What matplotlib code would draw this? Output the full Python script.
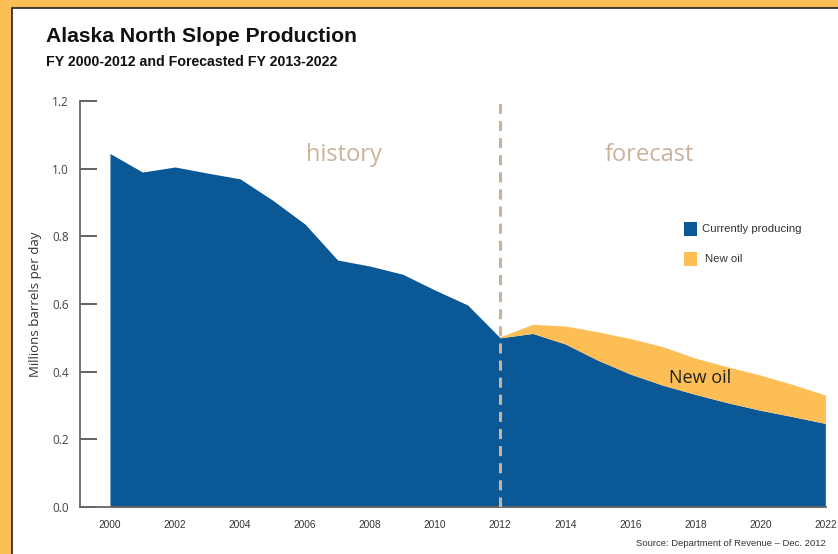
import matplotlib
matplotlib.use("Agg")
import matplotlib.pyplot as plt
from matplotlib.patches import Rectangle

# 数据
years = [2000, 2001, 2002, 2003, 2004, 2005, 2006, 2007, 2008, 2009, 2010, 2011, 2012,
         2013, 2014, 2015, 2016, 2017, 2018, 2019, 2020, 2021, 2022]
current = [1.045, 0.99, 1.005, 0.987, 0.97, 0.907, 0.836, 0.73, 0.712, 0.688, 0.641, 0.597, 0.50,
           0.513, 0.482, 0.434, 0.393, 0.360, 0.333, 0.308, 0.286, 0.267, 0.247]
fc_years = years[12:]
total = [0.503, 0.54, 0.535, 0.518, 0.498, 0.474, 0.440, 0.414, 0.390, 0.362, 0.331]
y_ticks = [0.0, 0.2, 0.4, 0.6, 0.8, 1.0, 1.2]
x_ticks = list(range(2000, 2023, 2))

blue = '#0B5896'
orange = '#FDBE55'
tan = '#C9B29C'
narrow = ['Liberation Sans Narrow', 'Liberation Sans', 'DejaVu Sans']
body = ['Open Sans', 'DejaVu Sans']

fig = plt.figure(figsize=(8.38, 5.54), dpi=100)
fig.patch.set_facecolor(orange)
# 白色面板
fig.patches.append(Rectangle((12 / 838, -0.01), 1.0, 1 - 8 / 554 + 0.01, transform=fig.transFigure,
                             facecolor='white', edgecolor='#222222', lw=1.2, zorder=-5))

ax = fig.add_axes([80 / 838, 1 - 507 / 554, (826 - 80) / 838, (507 - 101) / 554])
ax.set_zorder(2)
ax.set_facecolor('none')
ax.fill_between(years, 0, current, color=blue, lw=0, zorder=2)
ax.fill_between(fc_years, current[12:], total, color=orange, lw=0, zorder=2)
ax.axvline(2012, ymin=0, ymax=1, color=tan, lw=2.2, ls=(0, (3.3, 2.3)), zorder=3)

ax.set_xlim(2000 - 30 / 32.55, 2022.02)
ax.set_ylim(0, 1.2)
ax.set_yticks(y_ticks)
ax.set_yticklabels(['%.1f' % v for v in y_ticks], family=body, fontsize=8.5, color='#444444')
ax.set_xticks(x_ticks)
ax.set_xticklabels([str(v) for v in x_ticks], family=narrow, fontsize=7.3, color='#333333')
ax.tick_params(axis='y', direction='in', length=12, width=1.3, color='#555555', pad=8)
ax.tick_params(axis='x', length=0, pad=9)
for s in ['top', 'right']:
    ax.spines[s].set_visible(False)
for s in ['left', 'bottom']:
    ax.spines[s].set_color('#666666')
    ax.spines[s].set_linewidth(1.3)
ax.set_ylabel('Millions barrels per day', family=body, fontsize=9.5, color='#333333', labelpad=7)

ax.text(2007.2, 1.04, 'history', family=body, fontsize=17, color=tan, ha='center', va='center')
ax.text(2016.6, 1.04, 'forecast', family=body, fontsize=17, color=tan, ha='center', va='center')
ax.text(2018.15, 0.38, 'New oil', family=body, fontsize=13, color='#222222', ha='center', va='center', zorder=4)

# 图例
fig.patches.append(Rectangle((684 / 838, 1 - 236 / 554), 13 / 838, 14 / 554, transform=fig.transFigure,
                             facecolor=blue, lw=0))
fig.patches.append(Rectangle((684 / 838, 1 - 266 / 554), 13 / 838, 14 / 554, transform=fig.transFigure,
                             facecolor=orange, lw=0))
fig.text(702 / 838, 1 - 229 / 554, 'Currently producing', family=narrow, fontsize=8.2, color='#333333', va='center')
fig.text(705 / 838, 1 - 259 / 554, 'New oil', family=narrow, fontsize=8.2, color='#333333', va='center')

fig.text(46 / 838, 1 - 37 / 554, 'Alaska North Slope Production', family=narrow, fontsize=15.2,
         fontweight='bold', color='#111111', va='center')
fig.text(46 / 838, 1 - 62 / 554, 'FY 2000-2012 and Forecasted FY 2013-2022', family=narrow, fontsize=10.2,
         fontweight='bold', color='#111111', va='center')
fig.text(826 / 838, 1 - 543 / 554, 'Source: Department of Revenue \u2013 Dec. 2012', family=narrow, fontsize=6.8,
         color='#333333', ha='right', va='center')

plt.savefig('out.png', dpi=100, facecolor=fig.get_facecolor())
